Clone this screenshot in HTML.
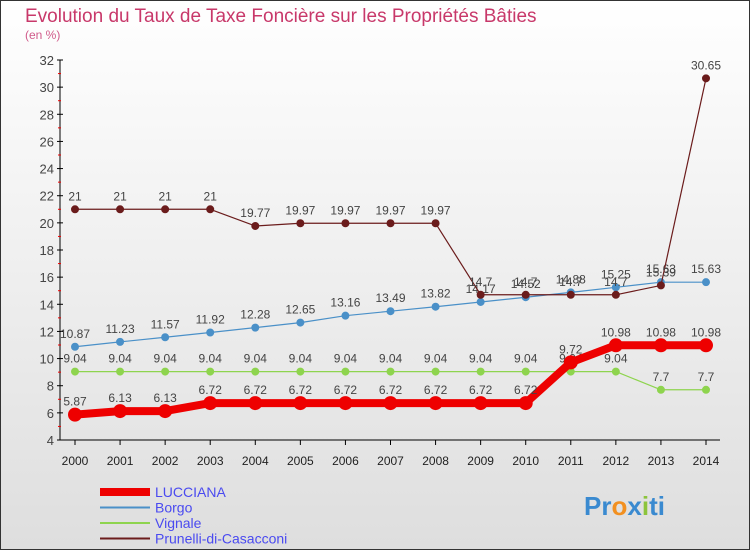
<!DOCTYPE html>
<html><head><meta charset="utf-8"><style>
body{margin:0}
svg{display:block;font-family:"Liberation Sans",sans-serif}
</style></head><body>
<svg width="750" height="550" xmlns="http://www.w3.org/2000/svg">
<defs><linearGradient id="bg" x1="0" y1="0" x2="0" y2="1"><stop offset="0" stop-color="#ffffff"/><stop offset="1" stop-color="#dedede"/></linearGradient></defs>
<rect x="0.5" y="0.5" width="749" height="549" fill="url(#bg)" stroke="#333"/>
<text x="25" y="22" font-size="19" fill="#c8386a">Evolution du Taux de Taxe Foncière sur les Propriétés Bâties</text>
<text x="25" y="39" font-size="12" fill="#d05a8a">(en %)</text>
<g id="axes"></g>
<g id="series"></g>
<g id="legend"></g>
<text x="584" y="515" font-size="26" font-weight="bold" fill="#3a8ad0">Pr<tspan fill="#f29020">o</tspan>x<tspan fill="#8cc43c">i</tspan>ti</text>
<script>
const years=[2000,2001,2002,2003,2004,2005,2006,2007,2008,2009,2010,2011,2012,2013,2014];
const lucciana=[5.87,6.13,6.13,6.72,6.72,6.72,6.72,6.72,6.72,6.72,6.72,9.72,10.98,10.98,10.98];
const borgo=[10.87,11.23,11.57,11.92,12.28,12.65,13.16,13.49,13.82,14.17,14.52,14.88,15.25,15.63,15.63];
const vignale=[9.04,9.04,9.04,9.04,9.04,9.04,9.04,9.04,9.04,9.04,9.04,9.04,9.04,7.7,7.7];
const prunelli=[21,21,21,21,19.77,19.97,19.97,19.97,19.97,14.7,14.7,14.7,14.7,15.39,30.65];
const yTicks=[4,6,8,10,12,14,16,18,20,22,24,26,28,30,32];
const NS="http://www.w3.org/2000/svg";
const X=i=>75+i*(706-75)/(years.length-1);
const Y=v=>440-(v-4)*(380/28);
function mk(t,a,p){const e=document.createElementNS(NS,t);for(const k in a)e.setAttribute(k,a[k]);p.appendChild(e);return e;}
const ax=document.getElementById('axes');
const yl=mk('line',{x1:60,y1:60,x2:60,y2:440,stroke:'#000'},ax);


const xl=mk('line',{x1:60,y1:440,x2:720,y2:440,stroke:'#000'},ax);


yTicks.forEach(v=>{
  mk('line',{x1:57,y1:Y(v),x2:63,y2:Y(v),stroke:'#000'},ax);
  if(v<32)mk('line',{x1:58,y1:Y(v+1),x2:61,y2:Y(v+1),stroke:'#e00'},ax);
  const t=mk('text',{x:54,y:Y(v)+5,'text-anchor':'end','font-size':13,fill:'#444'},ax);
  
  
  t.textContent=v;
});
years.forEach((yr,i)=>{
  mk('line',{x1:X(i),y1:440,x2:X(i),y2:445,stroke:'#000'},ax);
  const t=mk('text',{x:X(i),y:465,'text-anchor':'middle','font-size':12,fill:'#222'},ax);
  
  
  t.textContent=yr;
});
const sg=document.getElementById('series');
function series(vals,color,w,r,name,dot){
  const g=mk('g',{},sg);
  
  
  const p=mk('polyline',{points:vals.map((v,i)=>X(i)+','+Y(v)).join(' '),fill:'none',stroke:color,'stroke-width':w,'stroke-linejoin':'round'},g);
  
  
  vals.forEach((v,i)=>{
    const c=mk('circle',{cx:X(i),cy:Y(v),r:r,fill:dot,stroke:color,'stroke-width':1},g);
    
    
    const t=mk('text',{x:X(i),y:Y(v)-9,'text-anchor':'middle','font-size':12,fill:'#444'},g);
    
    
    t.textContent=v;
  });
}
series(vignale,'#8ed44e',1.2,3.5,'vignale','#8ed44e');
series(borgo,'#4a90c8',1.2,3.5,'borgo','#4a90c8');
series(prunelli,'#6b1c1c',1.2,3.5,'prunelli','#6b1c1c');
series(lucciana,'#ee0000',8,6.5,'lucciana','#ee0000');
const lg=document.getElementById('legend');
const items=[['LUCCIANA','#ee0000',8],['Borgo','#4a90c8',2],['Vignale','#8ed44e',2],['Prunelli-di-Casacconi','#6b1c1c',2]];
items.forEach((it,i)=>{
  const y=492+i*15.5;
  const g=mk('g',{},lg);
  
  
  mk('line',{x1:100,y1:y,x2:150,y2:y,stroke:it[1],'stroke-width':it[2]},g);
  const t=mk('text',{x:155,y:y+5,'font-size':14,fill:'#4a4af0'},g);
  t.textContent=it[0];
});
</script>
</svg>
</body></html>
